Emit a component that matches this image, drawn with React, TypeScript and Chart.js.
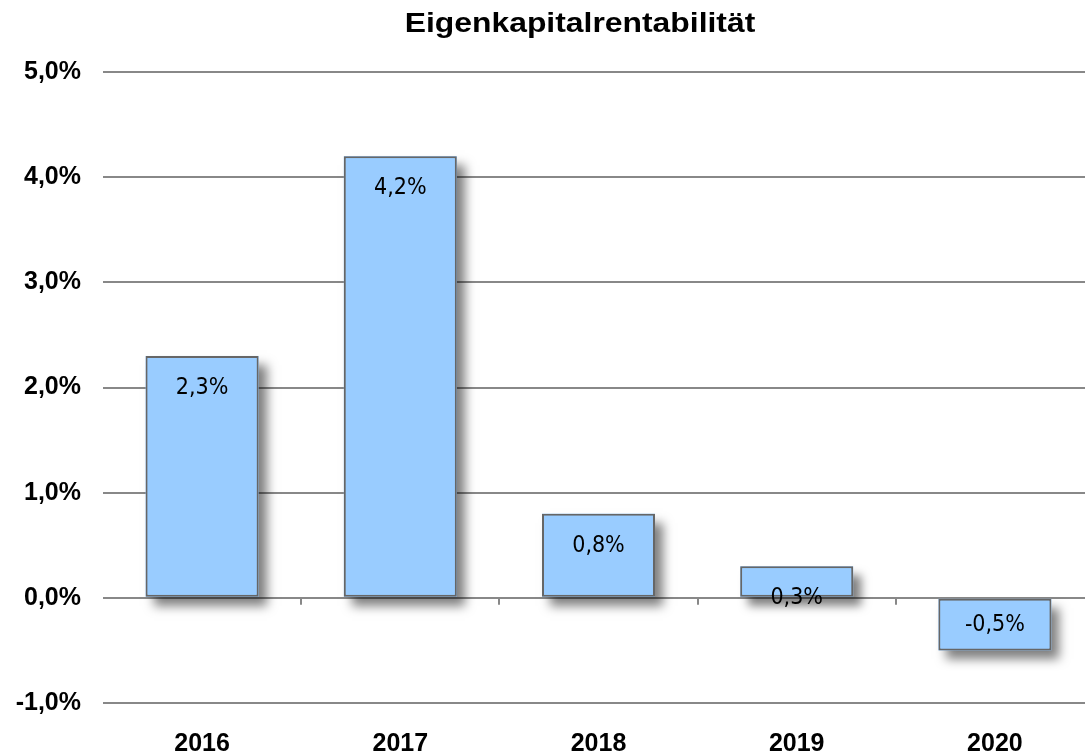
import React, { useEffect, useRef } from "react";
import { Chart, registerables } from "chart.js";

Chart.register(...registerables);

const TITLE = "Eigenkapitalrentabilität";
const YEARS = ["2016", "2017", "2018", "2019", "2020"];
const ROE = [2.3, 4.2, 0.8, 0.3, -0.5];
const Y_MIN = -1;
const Y_MAX = 5;

const fmt = (v: number) => v.toFixed(1).replace(".", ",") + "%";

const titlePlugin = {
  id: "scaledTitle",
  afterDraw(chart: any) {
    const ctx = chart.ctx;
    ctx.save();
    ctx.font = 'bold 27px "Liberation Sans", Arial, sans-serif';
    ctx.fillStyle = "#000";
    ctx.textAlign = "center";
    ctx.textBaseline = "alphabetic";
    ctx.translate(580, 32);
    ctx.scale(1.18, 1);
    ctx.fillText(TITLE, 0, 0);
    ctx.restore();
  },
};

const shadowPlugin = {
  id: "barShadow",
  beforeDatasetsDraw(chart: any) {
    const ctx = chart.ctx;
    const meta = chart.getDatasetMeta(0);
    ctx.save();
    ctx.shadowColor = "rgba(0,0,0,0.5)";
    ctx.shadowBlur = 10;
    ctx.shadowOffsetX = 8;
    ctx.shadowOffsetY = 9;
    ctx.fillStyle = "#99CCFF";
    meta.data.forEach((bar: any) => {
      const p = bar.getProps(["x", "y", "base", "width"], true);
      const left = p.x - p.width / 2;
      const top = Math.min(p.y, p.base);
      const h = Math.abs(p.base - p.y);
      ctx.fillRect(left, top, p.width, h);
    });
    ctx.restore();
  },
};

const labelsPlugin = {
  id: "valueLabels",
  afterDatasetsDraw(chart: any) {
    const ctx = chart.ctx;
    const meta = chart.getDatasetMeta(0);
    const data = chart.data.datasets[0].data as number[];
    const xs = chart.scales.x;
    const y0 = chart.scales.y.getPixelForValue(0);
    ctx.save();
    ctx.strokeStyle = "#888888";
    ctx.lineWidth = 2;
    for (let i = 0; i < data.length - 1; i++) {
      const x = Math.round((xs.getPixelForValue(i) + xs.getPixelForValue(i + 1)) / 2);
      ctx.beginPath();
      ctx.moveTo(x, y0);
      ctx.lineTo(x, y0 + 7);
      ctx.stroke();
    }
    ctx.restore();

    ctx.save();
    ctx.font = '23px "DejaVu Sans Condensed", "Open Sans", sans-serif';
    ctx.fillStyle = "#000";
    ctx.textAlign = "center";
    ctx.textBaseline = "alphabetic";
    meta.data.forEach((bar: any, i: number) => {
      const v = data[i];
      const y = v >= 0 ? bar.y + 38 : bar.y - 19;
      ctx.fillText(fmt(v), bar.x, y);
    });
    ctx.restore();
  },
};

export default function App() {
  const ref = useRef<HTMLCanvasElement | null>(null);

  useEffect(() => {
    document.body.style.margin = "0";
    document.body.style.overflow = "hidden";
    if (!ref.current) return;
    const chart = new Chart(ref.current, {
      type: "bar",
      data: {
        labels: YEARS,
        datasets: [
          {
            data: ROE,
            backgroundColor: "#99CCFF",
            borderColor: "#666666",
            borderWidth: 2,
            borderSkipped: false,
            barPercentage: 0.57,
            categoryPercentage: 1,
          },
        ],
      },
      options: {
        animation: false,
        responsive: true,
        maintainAspectRatio: false,
        layout: { padding: { top: 72, right: 0, left: 0, bottom: 0 } },
        plugins: {
          legend: { display: false },
          title: { display: false },
          tooltip: { enabled: false },
        },
        scales: {
          x: {
            grid: { display: false, drawTicks: false },
            border: { display: false },
            ticks: {
              padding: 26,
              color: "#000",
              font: { family: '"Liberation Sans", Arial, sans-serif', size: 25, weight: "bold" },
            },
            afterFit(scale: any) {
              scale.height = 50;
            },
          },
          y: {
            min: Y_MIN,
            max: Y_MAX,
            grid: { color: "#888888", lineWidth: 2, drawTicks: false },
            border: { display: false },
            ticks: {
              stepSize: 1,
              padding: 22,
              color: "#000",
              font: { family: '"Liberation Sans", Arial, sans-serif', size: 25, weight: "bold" },
              callback: (v: any) => fmt(Number(v)),
            },
            afterFit(scale: any) {
              scale.width = 103;
            },
          },
        },
      },
      plugins: [titlePlugin, shadowPlugin, labelsPlugin],
    });
    return () => chart.destroy();
  }, []);

  return (
    <div style={{ width: "1085px", height: "753px", overflow: "hidden", position: "relative" }}>
      <div style={{ width: "1094px", height: "753px", position: "relative" }}>
        <canvas ref={ref} />
      </div>
    </div>
  );
}
